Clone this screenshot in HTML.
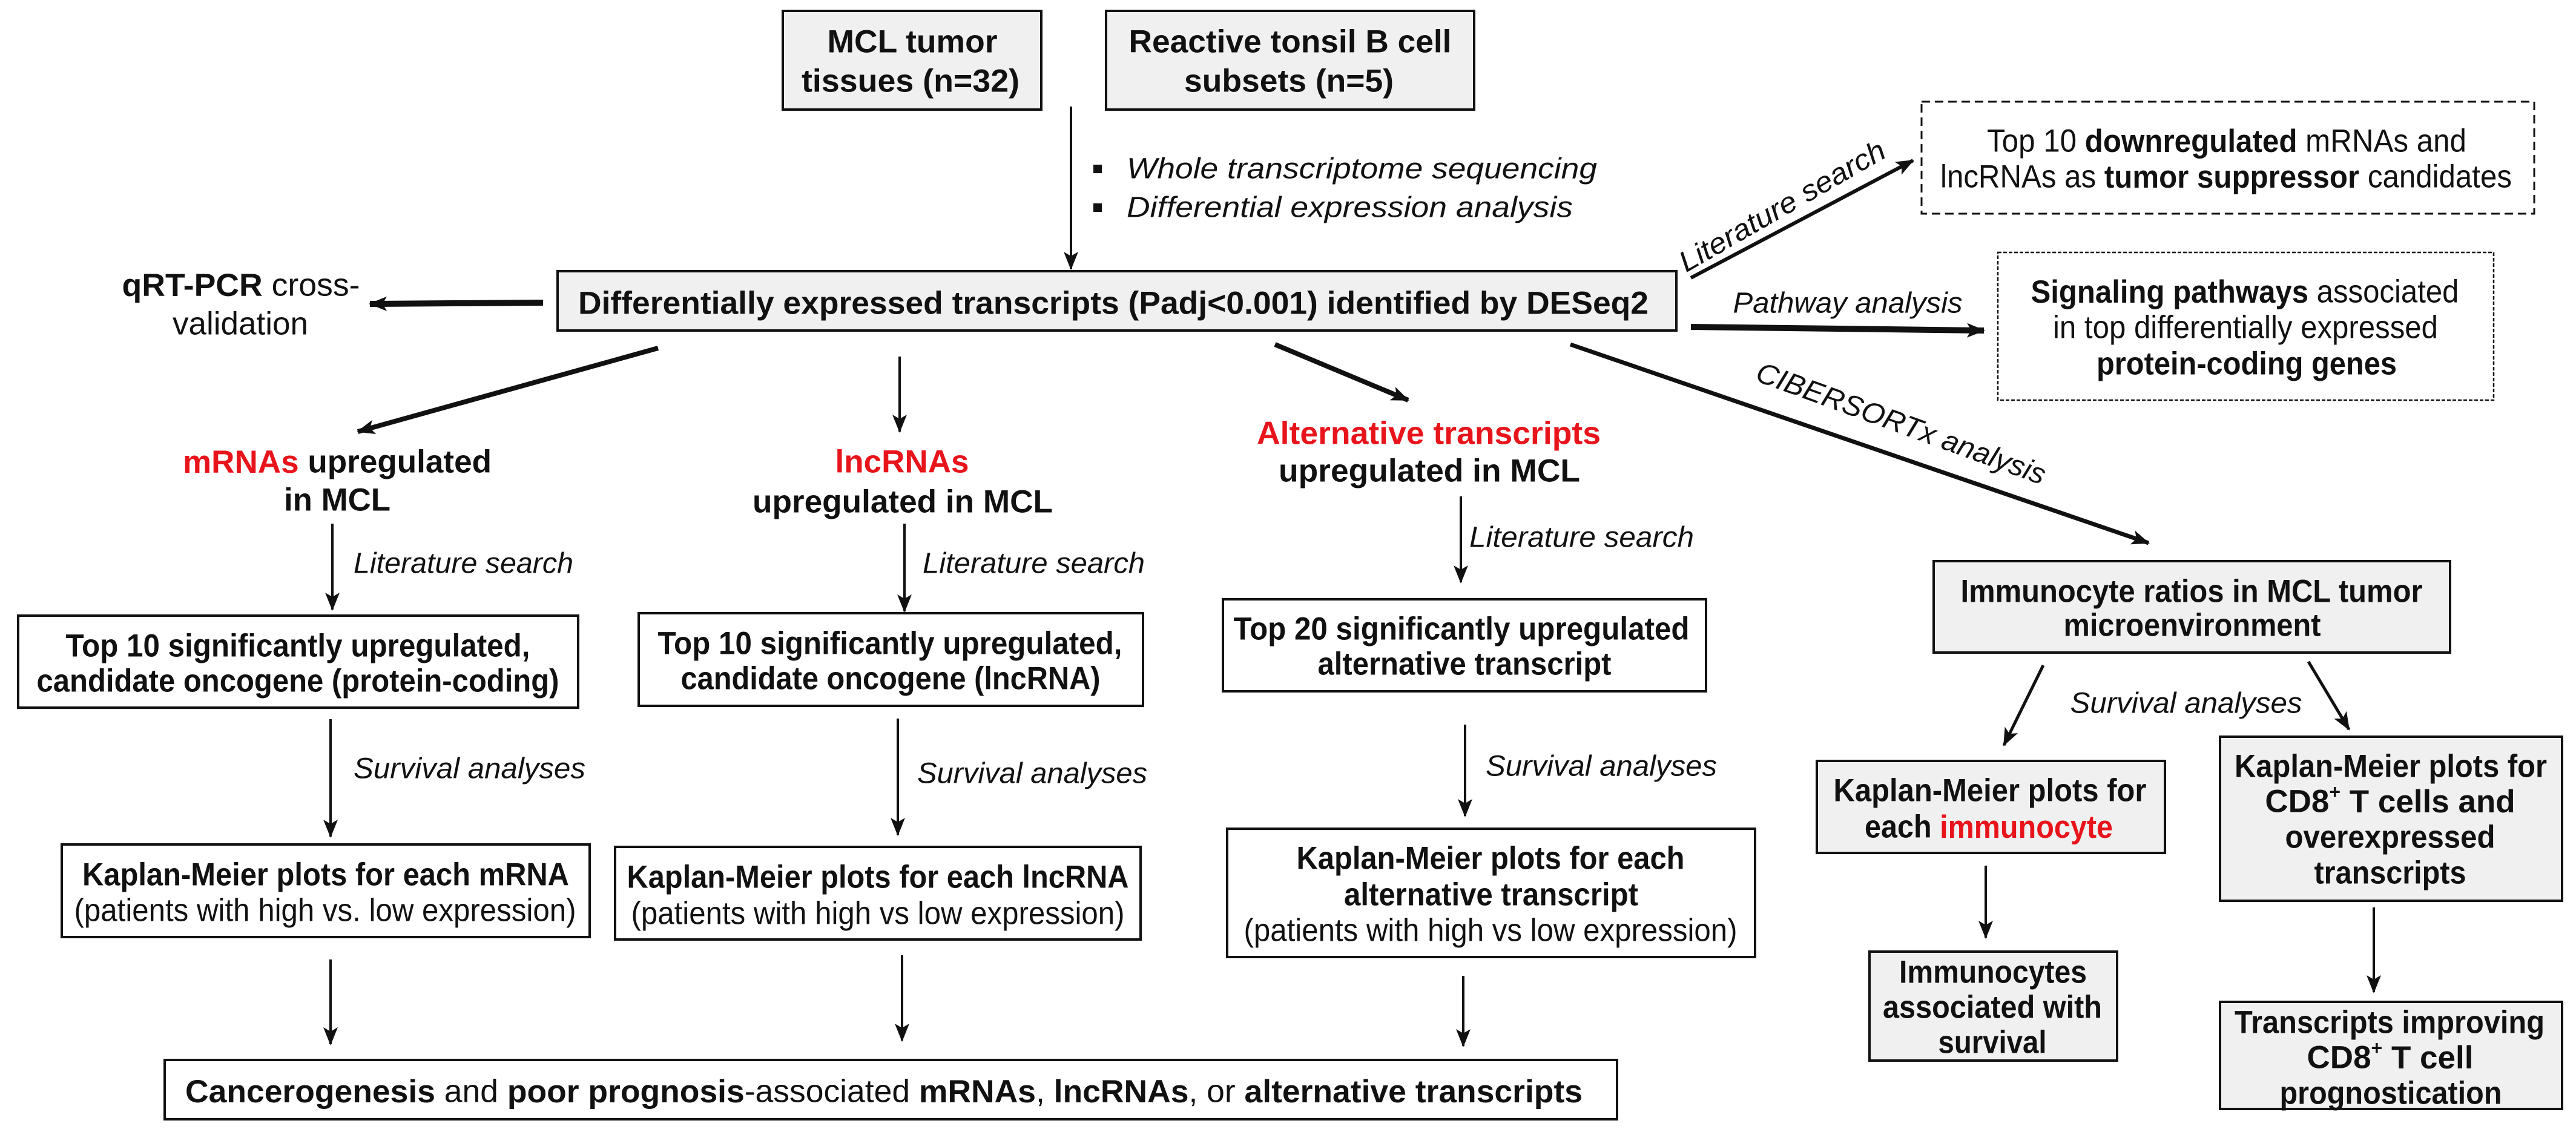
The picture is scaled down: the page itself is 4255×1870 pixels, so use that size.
<!DOCTYPE html>
<html><head><meta charset="utf-8"><style>
html,body{margin:0;padding:0;background:#fff;}
svg{display:block;}
text{font-family:"Liberation Sans",Arial,sans-serif;font-size:53px;fill:#111;}
.b{font-weight:bold;}
.i{font-style:italic;font-size:48px;}
.r{fill:#e8141b;}
.n{font-weight:normal;}
</style></head><body>
<svg width="4255" height="1870" viewBox="0 0 4255 1870" xmlns="http://www.w3.org/2000/svg">
<defs>
<marker id="a" viewBox="0 0 30 24" markerWidth="30" markerHeight="26" refX="28" refY="12" orient="auto" markerUnits="userSpaceOnUse">
<path d="M0,0 L30,12 L0,24 L7,12 z" fill="#111"/></marker>
</defs>
<g stroke="#111" stroke-width="4">
<rect x="1293" y="18" width="427" height="163" fill="#f0f0f0"/>
<rect x="1827" y="18" width="608" height="163" fill="#f0f0f0"/>
<rect x="921" y="448" width="1848" height="98" fill="#f0f0f0"/>
<rect x="30" y="1017" width="925" height="152" fill="#fff"/>
<rect x="1055" y="1013" width="833" height="153" fill="#fff"/>
<rect x="2020" y="990" width="798" height="152" fill="#fff"/>
<rect x="102" y="1395" width="872" height="153" fill="#fff"/>
<rect x="1016" y="1399" width="868" height="153" fill="#fff"/>
<rect x="2027" y="1369" width="872" height="212" fill="#fff"/>
<rect x="272" y="1751" width="2399" height="98" fill="#fff"/>
<rect x="3194" y="927" width="853" height="151" fill="#f0f0f0"/>
<rect x="3001" y="1257" width="575" height="152" fill="#f0f0f0"/>
<rect x="3667" y="1217" width="565" height="271" fill="#f0f0f0"/>
<rect x="3088" y="1572" width="409" height="180" fill="#f0f0f0"/>
<rect x="3667" y="1655" width="565" height="177" fill="#f0f0f0"/>
</g>
<rect x="3174" y="168" width="1012" height="185" fill="none" stroke="#111" stroke-width="3" stroke-dasharray="14,8"/>
<rect x="3300" y="417" width="819" height="244" fill="none" stroke="#111" stroke-width="2.5" stroke-dasharray="6,3"/>
<g stroke="#111" fill="none" marker-end="url(#a)">
<line x1="1769" y1="176" x2="1769" y2="444" stroke-width="4"/>
<line x1="897" y1="500" x2="611" y2="502" stroke-width="10"/>
<line x1="1087" y1="575" x2="591" y2="713" stroke-width="8"/>
<line x1="1486" y1="589" x2="1486" y2="713" stroke-width="4"/>
<line x1="2106" y1="569" x2="2326" y2="661" stroke-width="8"/>
<line x1="2793" y1="459" x2="3160" y2="265" stroke-width="6"/>
<line x1="2793" y1="540" x2="3277" y2="546" stroke-width="10"/>
<line x1="2594" y1="569" x2="3549" y2="897" stroke-width="7"/>
<line x1="549" y1="865" x2="549" y2="1007" stroke-width="4"/>
<line x1="1494" y1="865" x2="1494" y2="1010" stroke-width="4"/>
<line x1="2413" y1="820" x2="2413" y2="962" stroke-width="4"/>
<line x1="546" y1="1188" x2="546" y2="1382" stroke-width="4"/>
<line x1="1483" y1="1187" x2="1483" y2="1379" stroke-width="4"/>
<line x1="2420" y1="1197" x2="2420" y2="1348" stroke-width="4"/>
<line x1="546" y1="1585" x2="546" y2="1725" stroke-width="4"/>
<line x1="1490" y1="1578" x2="1490" y2="1719" stroke-width="4"/>
<line x1="2417" y1="1612" x2="2417" y2="1728" stroke-width="4"/>
<line x1="3375" y1="1099" x2="3310" y2="1231" stroke-width="5"/>
<line x1="3813" y1="1093" x2="3880" y2="1205" stroke-width="5"/>
<line x1="3280" y1="1430" x2="3280" y2="1549" stroke-width="4"/>
<line x1="3921" y1="1499" x2="3921" y2="1639" stroke-width="4"/>
</g>
<rect x="1806" y="272" width="14" height="14" fill="#111"/>
<rect x="1806" y="336" width="14" height="14" fill="#111"/>
<g dominant-baseline="central" text-anchor="middle">
<text class="b" x="1507" y="69" textLength="281" lengthAdjust="spacingAndGlyphs">MCL tumor</text>
<text class="b" x="1504" y="134" textLength="360" lengthAdjust="spacingAndGlyphs">tissues (n=32)</text>
<text class="b" x="2131" y="69" textLength="533" lengthAdjust="spacingAndGlyphs">Reactive tonsil B cell</text>
<text class="b" x="2129" y="134" textLength="346" lengthAdjust="spacingAndGlyphs">subsets (n=5)</text>
<text class="b" x="1839" y="501" textLength="1768" lengthAdjust="spacingAndGlyphs">Differentially expressed transcripts (Padj&lt;0.001) identified by DESeq2</text>
<text x="398" y="471" textLength="393" lengthAdjust="spacingAndGlyphs"><tspan class="b">qRT-PCR</tspan> cross-</text>
<text x="397" y="535" textLength="224" lengthAdjust="spacingAndGlyphs">validation</text>
<text class="b" x="557" y="763" textLength="510" lengthAdjust="spacingAndGlyphs"><tspan class="r">mRNAs</tspan> upregulated</text>
<text class="b" x="557" y="826" textLength="176" lengthAdjust="spacingAndGlyphs">in MCL</text>
<text class="b r" x="1490" y="763" textLength="221" lengthAdjust="spacingAndGlyphs">lncRNAs</text>
<text class="b" x="1491" y="829" textLength="496" lengthAdjust="spacingAndGlyphs">upregulated in MCL</text>
<text class="b r" x="2360" y="716" textLength="568" lengthAdjust="spacingAndGlyphs">Alternative transcripts</text>
<text class="b" x="2361" y="778" textLength="498" lengthAdjust="spacingAndGlyphs">upregulated in MCL</text>
<text class="b" x="492" y="1067" textLength="767" lengthAdjust="spacingAndGlyphs">Top 10 significantly upregulated,</text>
<text class="b" x="492" y="1125" textLength="863" lengthAdjust="spacingAndGlyphs">candidate oncogene (protein-coding)</text>
<text class="b" x="1470" y="1063" textLength="767" lengthAdjust="spacingAndGlyphs">Top 10 significantly upregulated,</text>
<text class="b" x="1471" y="1121" textLength="693" lengthAdjust="spacingAndGlyphs">candidate oncogene (lncRNA)</text>
<text class="b" x="2414" y="1039" textLength="753" lengthAdjust="spacingAndGlyphs">Top 20 significantly upregulated</text>
<text class="b" x="2419" y="1097" textLength="485" lengthAdjust="spacingAndGlyphs">alternative transcript</text>
<text class="b" x="538" y="1445" textLength="804" lengthAdjust="spacingAndGlyphs">Kaplan-Meier plots for each mRNA</text>
<text x="537" y="1504" textLength="829" lengthAdjust="spacingAndGlyphs">(patients with high vs. low expression)</text>
<text class="b" x="1450" y="1449" textLength="829" lengthAdjust="spacingAndGlyphs">Kaplan-Meier plots for each lncRNA</text>
<text x="1450" y="1509" textLength="815" lengthAdjust="spacingAndGlyphs">(patients with high vs low expression)</text>
<text class="b" x="2462" y="1418" textLength="641" lengthAdjust="spacingAndGlyphs">Kaplan-Meier plots for each</text>
<text class="b" x="2463" y="1478" textLength="486" lengthAdjust="spacingAndGlyphs">alternative transcript</text>
<text x="2462" y="1537" textLength="815" lengthAdjust="spacingAndGlyphs">(patients with high vs low expression)</text>
<text x="1460" y="1803" textLength="2308" lengthAdjust="spacingAndGlyphs"><tspan class="b">Cancerogenesis</tspan> and <tspan class="b">poor prognosis</tspan>-associated <tspan class="b">mRNAs</tspan>, <tspan class="b">lncRNAs</tspan>, or <tspan class="b">alternative transcripts</tspan></text>
<text x="3678" y="233" textLength="792" lengthAdjust="spacingAndGlyphs">Top 10 <tspan class="b">downregulated</tspan> mRNAs and</text>
<text x="3677" y="292" textLength="944" lengthAdjust="spacingAndGlyphs">lncRNAs as <tspan class="b">tumor suppressor</tspan> candidates</text>
<text x="3708" y="482" textLength="707" lengthAdjust="spacingAndGlyphs"><tspan class="b">Signaling pathways</tspan> associated</text>
<text x="3709" y="541" textLength="636" lengthAdjust="spacingAndGlyphs">in top differentially expressed</text>
<text class="b" x="3711" y="601" textLength="496" lengthAdjust="spacingAndGlyphs">protein-coding genes</text>
<text class="b" x="3620" y="977" textLength="763" lengthAdjust="spacingAndGlyphs">Immunocyte ratios in MCL tumor</text>
<text class="b" x="3621" y="1033" textLength="425" lengthAdjust="spacingAndGlyphs">microenvironment</text>
<text class="b" x="3287" y="1306" textLength="517" lengthAdjust="spacingAndGlyphs">Kaplan-Meier plots for</text>
<text class="b" x="3285" y="1366" textLength="410" lengthAdjust="spacingAndGlyphs">each <tspan class="r">immunocyte</tspan></text>
<text class="b" x="3949" y="1266" textLength="516" lengthAdjust="spacingAndGlyphs">Kaplan-Meier plots for</text>
<text class="b" x="3948" y="1324">CD8<tspan font-size="32" dy="-16">+</tspan><tspan dy="16"> T cells and</tspan></text>
<text class="b" x="3948" y="1383" textLength="347" lengthAdjust="spacingAndGlyphs">overexpressed</text>
<text class="b" x="3948" y="1442" textLength="251" lengthAdjust="spacingAndGlyphs">transcripts</text>
<text class="b" x="3292" y="1606" textLength="310" lengthAdjust="spacingAndGlyphs">Immunocytes</text>
<text class="b" x="3291" y="1664" textLength="362" lengthAdjust="spacingAndGlyphs">associated with</text>
<text class="b" x="3291" y="1722" textLength="179" lengthAdjust="spacingAndGlyphs">survival</text>
<text class="b" x="3947" y="1689" textLength="512" lengthAdjust="spacingAndGlyphs">Transcripts improving</text>
<text class="b" x="3948" y="1747">CD8<tspan font-size="32" dy="-16">+</tspan><tspan dy="16"> T cell</tspan></text>
<text class="b" x="3949" y="1806" textLength="367" lengthAdjust="spacingAndGlyphs">prognostication</text>
<text class="i" x="3052" y="501" textLength="379" lengthAdjust="spacingAndGlyphs">Pathway analysis</text>
<text class="i" x="3611" y="1162" textLength="383" lengthAdjust="spacingAndGlyphs">Survival analyses</text>
<text class="i" transform="translate(2944,341) rotate(-30)" x="0" y="0" textLength="385" lengthAdjust="spacingAndGlyphs">Literature search</text>
<text class="i" transform="translate(3140,700) rotate(20)" x="0" y="0" textLength="505" lengthAdjust="spacingAndGlyphs">CIBERSORTx analysis</text>
</g>
<g dominant-baseline="central">
<text class="i" x="1861" y="279" textLength="777" lengthAdjust="spacingAndGlyphs">Whole transcriptome sequencing</text>
<text class="i" x="1861" y="343" textLength="737" lengthAdjust="spacingAndGlyphs">Differential expression analysis</text>
<text class="i" x="584" y="931" textLength="363" lengthAdjust="spacingAndGlyphs">Literature search</text>
<text class="i" x="1524" y="931" textLength="367" lengthAdjust="spacingAndGlyphs">Literature search</text>
<text class="i" x="2427" y="888" textLength="371" lengthAdjust="spacingAndGlyphs">Literature search</text>
<text class="i" x="584" y="1270" textLength="383" lengthAdjust="spacingAndGlyphs">Survival analyses</text>
<text class="i" x="1515" y="1278" textLength="380" lengthAdjust="spacingAndGlyphs">Survival analyses</text>
<text class="i" x="2454" y="1266" textLength="382" lengthAdjust="spacingAndGlyphs">Survival analyses</text>
</g>
</svg>
</body></html>
